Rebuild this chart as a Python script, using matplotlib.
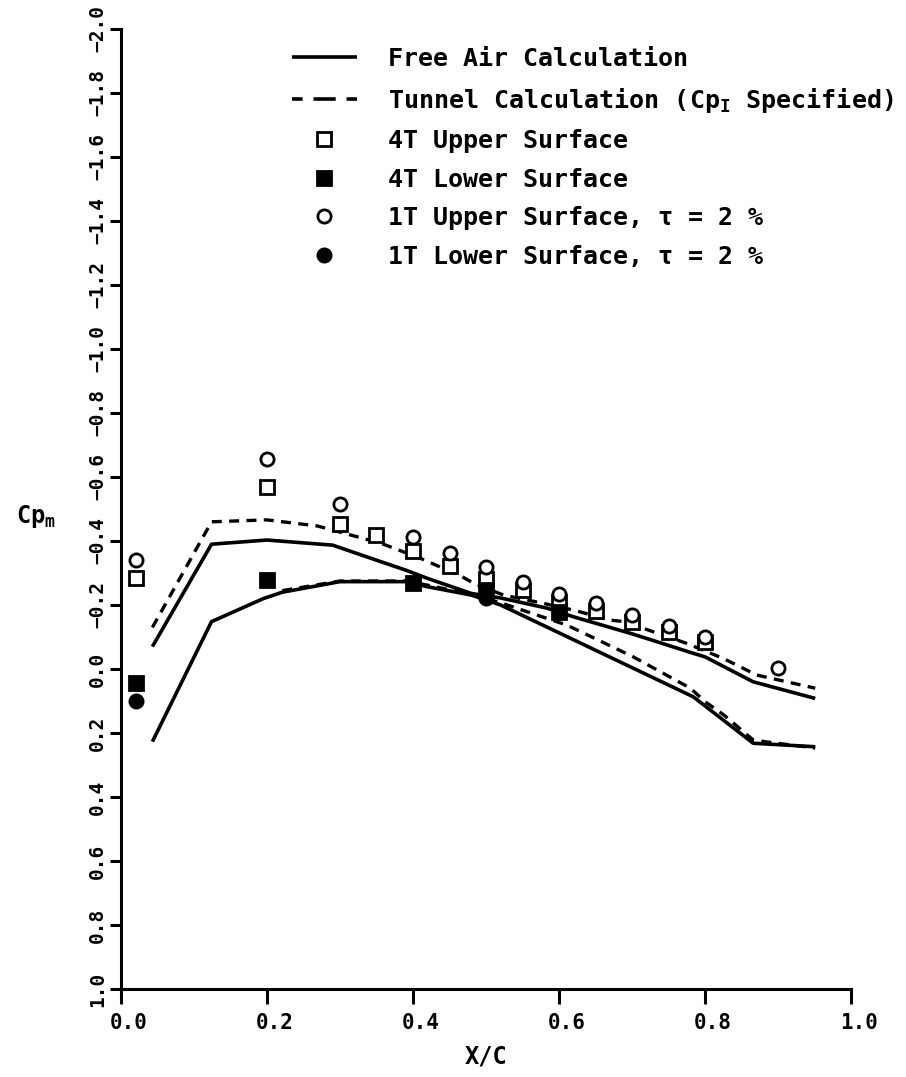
import matplotlib
matplotlib.use('Agg')
import matplotlib.pyplot as plt
from matplotlib.lines import Line2D
from matplotlib.ticker import FixedLocator
from matplotlib.transforms import ScaledTranslation

FONT = 'DejaVu Sans Mono'
plt.rcParams['font.family'] = [FONT, 'DejaVu Sans']
plt.rcParams['font.weight'] = 'bold'
plt.rcParams['mathtext.fontset'] = 'custom'
plt.rcParams['mathtext.rm'] = FONT + ':bold'
plt.rcParams['mathtext.it'] = FONT + ':bold'
plt.rcParams['mathtext.bf'] = FONT + ':bold'

# free air calculation (solid)
fa_up_x = [0.043, 0.124, 0.20, 0.29, 0.35, 0.39, 0.42, 0.48, 0.52, 0.584, 0.62, 0.70, 0.784, 0.80, 0.866, 0.951]
fa_up_y = [-0.07, -0.39, -0.403, -0.387, -0.34, -0.309, -0.283, -0.236, -0.222, -0.19, -0.163, -0.11, -0.049, -0.038, 0.04, 0.092]
fa_lo_x = [0.043, 0.124, 0.195, 0.221, 0.30, 0.39, 0.42, 0.48, 0.52, 0.784, 0.866, 0.951]
fa_lo_y = [0.227, -0.148, -0.22, -0.24, -0.273, -0.273, -0.257, -0.231, -0.20, 0.087, 0.232, 0.243]

# tunnel calculation (dashed)
tu_up_x = [0.043, 0.124, 0.20, 0.269, 0.356, 0.41, 0.466, 0.483, 0.524, 0.579, 0.62, 0.67, 0.689, 0.775, 0.825, 0.871, 0.951]
tu_up_y = [-0.13, -0.46, -0.466, -0.447, -0.393, -0.346, -0.29, -0.268, -0.231, -0.205, -0.184, -0.153, -0.148, -0.08, -0.033, 0.019, 0.06]
tu_lo_x = [0.221, 0.30, 0.39, 0.42, 0.48, 0.52, 0.611, 0.70, 0.78, 0.80, 0.826, 0.866, 0.885, 0.951]
tu_lo_y = [-0.245, -0.275, -0.275, -0.262, -0.233, -0.207, -0.137, -0.04, 0.06, 0.102, 0.144, 0.222, 0.228, 0.247]

# 4T data
t4_up_x = [0.02, 0.20, 0.30, 0.35, 0.40, 0.45, 0.50, 0.55, 0.60, 0.65, 0.70, 0.75, 0.80]
t4_up_y = [-0.285, -0.568, -0.453, -0.419, -0.37, -0.322, -0.281, -0.247, -0.21, -0.182, -0.148, -0.117, -0.085]
t4_lo_x = [0.02, 0.20, 0.40, 0.50, 0.60]
t4_lo_y = [0.045, -0.278, -0.268, -0.247, -0.178]

# 1T data, tau = 2 %
t1_up_x = [0.02, 0.20, 0.30, 0.40, 0.45, 0.50, 0.55, 0.60, 0.65, 0.70, 0.75, 0.80, 0.90]
t1_up_y = [-0.34, -0.655, -0.516, -0.413, -0.361, -0.318, -0.273, -0.234, -0.205, -0.169, -0.134, -0.10, -0.004]
t1_lo_x = [0.02, 0.50]
t1_lo_y = [0.10, -0.222]

y_ticks = [-2.0, -1.8, -1.6, -1.4, -1.2, -1.0, -0.8, -0.6, -0.4, -0.2, 0.0, 0.2, 0.4, 0.6, 0.8, 1.0]
x_ticks = [0.0, 0.2, 0.4, 0.6, 0.8, 1.0]

fig = plt.figure(figsize=(9.06, 10.77), dpi=100)
ax = fig.add_axes([121 / 906, 1 - 989 / 1077, 730 / 906, 960 / 1077])

dash = (0, (3, 2.2))
h_fa, = ax.plot(fa_up_x, fa_up_y, color='k', lw=2.6, solid_capstyle='butt')
ax.plot(fa_lo_x, fa_lo_y, color='k', lw=2.6, solid_capstyle='butt')
ax.plot(tu_up_x, tu_up_y, color='k', lw=2.4, ls=dash)
ax.plot(tu_lo_x, tu_lo_y, color='k', lw=2.4, ls=dash)
# legend key: short - long - short dashes as in the original key
h_tu = Line2D([], [], color='k', lw=2.6, ls=(3.2, (6.15, 3)))

ms = 9.5
h_4u, = ax.plot(t4_up_x, t4_up_y, 's', ms=ms, mfc='white', mec='k', mew=2)
h_4l, = ax.plot(t4_lo_x, t4_lo_y, 's', ms=ms, mfc='k', mec='k', mew=2)
h_1u, = ax.plot(t1_up_x, t1_up_y, 'o', ms=ms, mfc='white', mec='k', mew=2)
h_1l, = ax.plot(t1_lo_x, t1_lo_y, 'o', ms=ms, mfc='k', mec='k', mew=2)

ax.set_xlim(0, 1.0)
ax.set_ylim(1.0, -2.0)
ax.xaxis.set_major_locator(FixedLocator(x_ticks))
ax.yaxis.set_major_locator(FixedLocator(y_ticks))
ax.set_xticklabels([f'{v:.1f}' for v in x_ticks])
ax.set_yticklabels([f'{v:.1f}'.replace('-', '\u2212') for v in y_ticks])

for s in ['top', 'right']:
    ax.spines[s].set_visible(False)
for s in ['left', 'bottom']:
    ax.spines[s].set_linewidth(2.2)
ax.tick_params(axis='x', direction='out', length=11, width=2.2, labelsize=15, pad=6)
ax.tick_params(axis='y', direction='out', length=8, width=2.2, labelsize=14, pad=2,
               labelrotation=90)
for lab in ax.get_yticklabels():
    lab.set_va('center')
shift = ScaledTranslation(8 / 100, 0, fig.dpi_scale_trans)
for lab in ax.get_xticklabels():
    lab.set_transform(lab.get_transform() + shift)

fig.text(486 / 906, 1 - 1056 / 1077, 'X/C', ha='center', va='center', fontsize=17)
fig.text(36 / 906, 1 - 517 / 1077, r'$\mathbf{Cp_m}$', ha='center', va='center', fontsize=17)

handles = [h_fa, h_tu, h_4u, h_4l, h_1u, h_1l]
labels = ['Free Air Calculation',
          r'Tunnel Calculation (Cp$_\mathbf{I}$ Specified)',
          '4T Upper Surface',
          '4T Lower Surface',
          '1T Upper Surface, \u03c4 = 2 %',
          '1T Lower Surface, \u03c4 = 2 %']
ax.legend(handles, labels, loc='upper left', bbox_to_anchor=(0.234, 0.981),
          frameon=False, fontsize=18, handlelength=2.6, handletextpad=1.25,
          labelspacing=0.58, borderaxespad=0, borderpad=0)

fig.savefig('out.png', dpi=100)
